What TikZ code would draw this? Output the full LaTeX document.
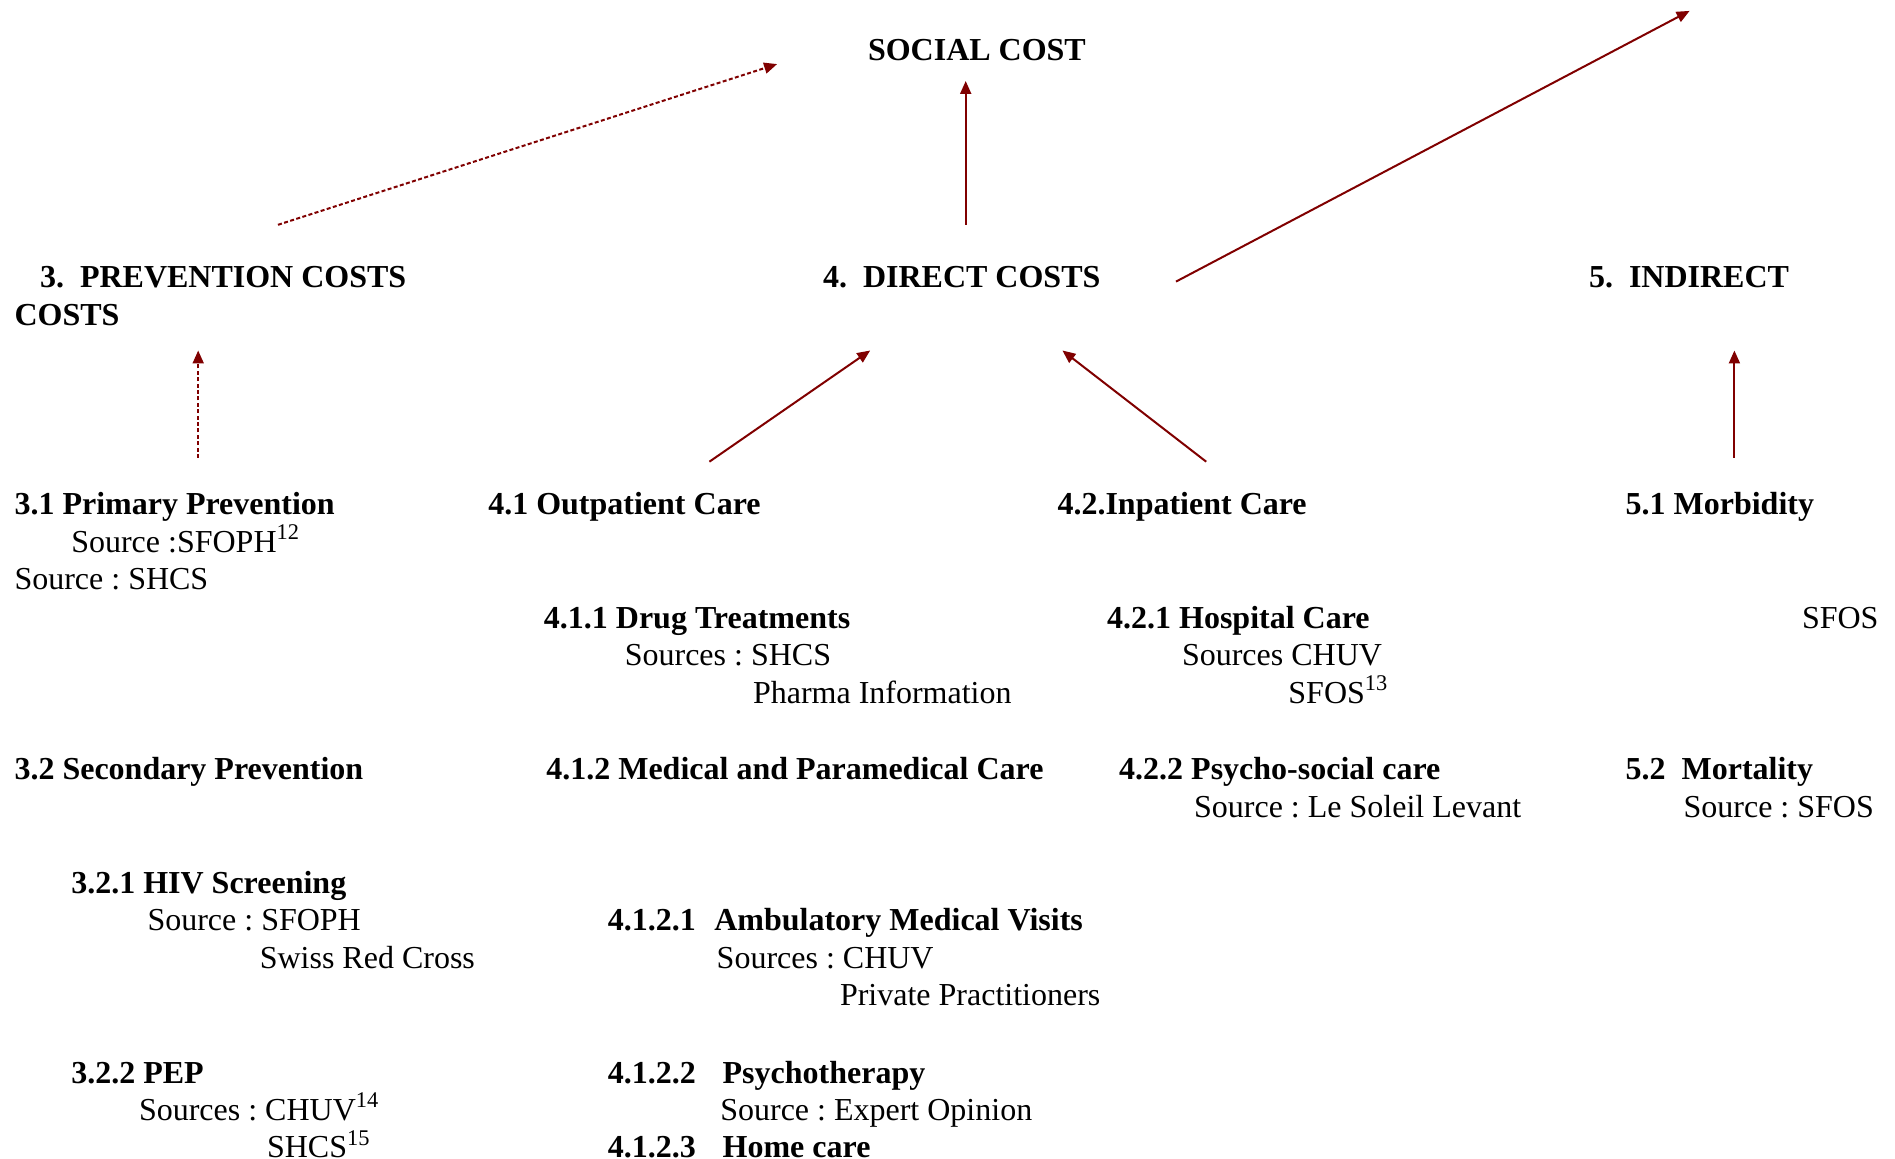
\documentclass[tikz,border=0pt]{standalone}
\usepackage{fontspec}
\setmainfont{Liberation Serif}
\usetikzlibrary{arrows.meta}
\definecolor{arrowred}{RGB}{128,0,0}
\frenchspacing
\begin{document}
\begin{tikzpicture}[x=0.5pt,y=-0.5pt,
  txt/.style={anchor=base west,inner sep=0pt,outer sep=0pt,font=\fontsize{16pt}{19pt}\selectfont},
  hd/.style={anchor=base west,inner sep=0pt,outer sep=0pt,font=\fontsize{16pt}{19pt}\selectfont\bfseries},
  conn/.style={draw=arrowred,line width=1pt,-{Triangle[length=6.5pt,width=5.5pt]}},
  dconn/.style={conn,dash pattern=on 2pt off 1.2pt}
]
\useasboundingbox (0,0) rectangle (1895,1159);

% level 0
\node[hd] (social) at (868,60.5) {SOCIAL COST};

% level 1
\node[hd] (prev) at (40,287.6) {3.\hspace{0.5em}PREVENTION COSTS};
\node[hd] (prevb) at (14.5,325.2) {COSTS};
\node[hd] (direct) at (823,287.6) {4.\hspace{0.5em}DIRECT COSTS};
\node[hd] (indirect) at (1589,287.6) {5.\hspace{0.5em}INDIRECT};

% prevention column
\node[hd] (primary) at (14.5,515) {3.1 Primary Prevention};
\node[txt] (primsrc) at (71.3,552.4) {Source :SFOPH\textsuperscript{12}};
\node[txt] (primsrcb) at (14.5,589.9) {Source : SHCS};
\node[hd] (secondary) at (14.5,779.6) {3.2 Secondary Prevention};
\node[hd] (hiv) at (71.3,893.3) {3.2.1 HIV Screening};
\node[txt] (hivsrc) at (147.5,930.7) {Source : SFOPH};
\node[txt] (hivsrcb) at (259.8,968.2) {Swiss Red Cross};
\node[hd] (pep) at (71.3,1083) {3.2.2 PEP};
\node[txt] (pepsrc) at (139,1120.5) {Sources : CHUV\textsuperscript{14}};
\node[txt] (pepsrcb) at (267.1,1157.9) {SHCS\textsuperscript{15}};

% outpatient column
\node[hd] (outpat) at (488.3,515) {4.1 Outpatient Care};
\node[hd] (drug) at (543.9,628.6) {4.1.1 Drug Treatments};
\node[txt] (drugsrc) at (624.8,666) {Sources : SHCS};
\node[txt] (drugsrcb) at (753,703.5) {Pharma Information};
\node[hd] (medical) at (546.3,779.6) {4.1.2 Medical and Paramedical Care};
\node[hd] (ambul) at (607.9,930.7) {\makebox[53.2pt][l]{4.1.2.1}Ambulatory Medical Visits};
\node[txt] (ambsrc) at (716.7,968.2) {Sources : CHUV};
\node[txt] (ambsrcb) at (840,1005.7) {Private Practitioners};
\node[hd] (psycho) at (607.9,1083) {\makebox[57.4pt][l]{4.1.2.2}Psychotherapy};
\node[txt] (psysrc) at (720.3,1120.5) {Source : Expert Opinion};
\node[hd] (home) at (607.9,1157.9) {\makebox[57.4pt][l]{4.1.2.3}Home care};

% inpatient column
\node[hd] (inpat) at (1057.5,515) {4.2.Inpatient Care};
\node[hd] (hosp) at (1107.1,628.6) {4.2.1 Hospital Care};
\node[txt] (hospsrc) at (1182,666) {Sources CHUV};
\node[txt] (hospsrcb) at (1288.4,703.5) {SFOS\textsuperscript{13}};
\node[hd] (psysoc) at (1119.2,779.6) {4.2.2 Psycho-social care};
\node[txt] (psysocsrc) at (1194.1,817.1) {Source : Le Soleil Levant};

% indirect column
\node[hd] (morb) at (1625.6,515) {5.1 Morbidity};
\node[txt] (morbsrc) at (1802,628.6) {SFOS};
\node[hd] (mort) at (1625.6,779.6) {5.2\hspace{0.5em}Mortality};
\node[txt] (mortsrc) at (1683.6,817.1) {Source : SFOS};

% connector end points
\coordinate (prevOut) at (278,224.8);
\coordinate (socialInL) at (777.1,64.1);
\coordinate (directOut) at (965.7,224.8);
\coordinate (socialIn) at (965.7,81);
\coordinate (directOutR) at (1176,281.6);
\coordinate (topRight) at (1689.6,10.9);
\coordinate (primOut) at (198.2,458);
\coordinate (prevIn) at (198.2,350.5);
\coordinate (outOut) at (709.4,461.7);
\coordinate (directInL) at (870.2,350.5);
\coordinate (inOut) at (1206.2,461.7);
\coordinate (directInR) at (1062.4,350.5);
\coordinate (morbOut) at (1734.4,458);
\coordinate (indirectIn) at (1734.4,350.5);

\draw[dconn] (prevOut) -- (socialInL);
\draw[conn] (directOut) -- (socialIn);
\draw[conn] (directOutR) -- (topRight);
\draw[dconn] (primOut) -- (prevIn);
\draw[conn] (outOut) -- (directInL);
\draw[conn] (inOut) -- (directInR);
\draw[conn] (morbOut) -- (indirectIn);
\end{tikzpicture}
\end{document}
